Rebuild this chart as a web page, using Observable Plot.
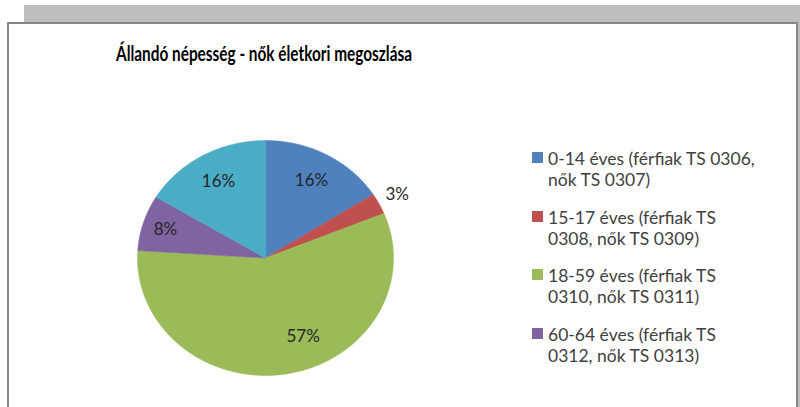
<!DOCTYPE html>
<html>
<head>
<meta charset="utf-8">
<script src="https://cdn.jsdelivr.net/npm/d3@7"></script>
<script src="https://cdn.jsdelivr.net/npm/@observablehq/plot@0.6"></script>
<style>
  html, body { margin: 0; padding: 0; background: #fff; }
  #wrap { position: relative; width: 800px; height: 407px; overflow: hidden; font-family: Lato, "Open Sans", sans-serif; }
  #shadow { position: absolute; left: 24px; top: 5px; width: 800px; height: 500px; background: #bebebe; }
  #frame { position: absolute; left: 7px; top: 22px; width: 787px; height: 500px; background: #fff; border: 2px solid #878787; }
  #title { position: absolute; left: 116px; top: 41px; font-weight: bold; font-size: 20px; line-height: 24px; color: #000; white-space: nowrap; transform-origin: 0 0; }
  #chart { position: absolute; left: 0; top: 0; }
  #legend { position: absolute; left: 532px; top: 148px; color: #404040; font-size: 17.5px; }
  .item { position: relative; height: 58.5px; }
  .sw { position: absolute; left: 0; top: 4px; width: 11px; height: 11px; }
  .txt { position: absolute; left: 16px; top: 0; line-height: 21px; white-space: nowrap; }
</style>
</head>
<body>
<div id="wrap">
  <div id="shadow"></div>
  <div id="frame"></div>
  <div id="chart"></div>
  <div id="title"></div>
  <div id="legend"></div>
</div>
<script>
// ---- data ----
const title = "Állandó népesség - nők életkori megoszlása";
const categories = ["0-14 éves", "15-17 éves", "18-59 éves", "60-64 éves", "65- éves"];
const shares = [15.9, 2.9, 57.2, 7.7, 16.3];
const pctLabels = ["16%", "3%", "57%", "8%", "16%"];
const colors = ["#4F81BD", "#C0504D", "#9BBB59", "#8064A2", "#4BACC6"];
// legend entries visible in the original (the last category's entry is cut off there)
const legendLines = [
  ["0-14 éves (férfiak TS 0306,", "nők TS 0307)"],
  ["15-17 éves (férfiak  TS", "0308, nők TS 0309)"],
  ["18-59 éves (férfiak  TS", "0310, nők TS 0311)"],
  ["60-64 éves (férfiak  TS", "0312, nők TS 0313)"]
];

// ---- build wedges (angles measured clockwise from 12 o'clock) ----
const total = d3.sum(shares);
let acc = 0;
const slices = categories.map((c, i) => {
  const a0 = acc / total * 2 * Math.PI;
  acc += shares[i];
  const a1 = acc / total * 2 * Math.PI;
  return {category: c, a0, a1, label: pctLabels[i], share: shares[i]};
});
const wedgePts = [];
for (const s of slices) {
  wedgePts.push({category: s.category, x: 0, y: 0});
  const n = Math.max(2, Math.ceil((s.a1 - s.a0) / (Math.PI / 360)));
  for (let k = 0; k <= n; k++) {
    const a = s.a0 + (s.a1 - s.a0) * k / n;
    wedgePts.push({category: s.category, x: Math.sin(a), y: Math.cos(a)});
  }
  wedgePts.push({category: s.category, x: 0, y: 0});
}
const labelPts = slices.map(s => {
  const f = s.share / total;
  // large slice: label placed a little before the mid angle (best-fit style)
  const m = f > 0.5 ? s.a0 + (s.a1 - s.a0) * 0.43 : (s.a0 + s.a1) / 2;
  const r = f < 0.05 ? 1.16 : (f > 0.5 ? 0.73 : (f < 0.1 ? 0.82 : 0.75));
  return {label: s.label, x: r * Math.sin(m), y: r * Math.cos(m)};
});

const chart = Plot.plot({
  width: 800,
  height: 407,
  margin: 0,
  style: {background: "transparent", overflow: "visible"},
  x: {domain: [-1, 1], range: [137, 393], axis: null},
  y: {domain: [-1, 1], range: [375, 140], axis: null},
  color: {domain: categories, range: colors},
  marks: [
    Plot.line(wedgePts, {x: "x", y: "y", z: "category", fill: "category", stroke: "category", strokeWidth: 0.5}),
    Plot.text(labelPts, {x: "x", y: "y", text: "label", fontSize: 17, fill: "#262626", fontFamily: "Lato, sans-serif"})
  ]
});
document.getElementById("chart").appendChild(chart);

const t = document.getElementById("title");
t.textContent = title;
// narrow the title horizontally to the original's width (Calibri-like proportions)
const tw = t.getBoundingClientRect().width;
t.style.transform = `scaleX(${296 / tw})`;

const leg = document.getElementById("legend");
legendLines.forEach((lines, i) => {
  const item = document.createElement("div");
  item.className = "item";
  const sw = document.createElement("div");
  sw.className = "sw";
  sw.style.background = colors[i];
  const txt = document.createElement("div");
  txt.className = "txt";
  txt.innerHTML = lines.map(l => l.replace(/&/g, "&amp;").replace(/</g, "&lt;")).join("<br>");
  item.appendChild(sw);
  item.appendChild(txt);
  leg.appendChild(item);
});
</script>
</body>
</html>
